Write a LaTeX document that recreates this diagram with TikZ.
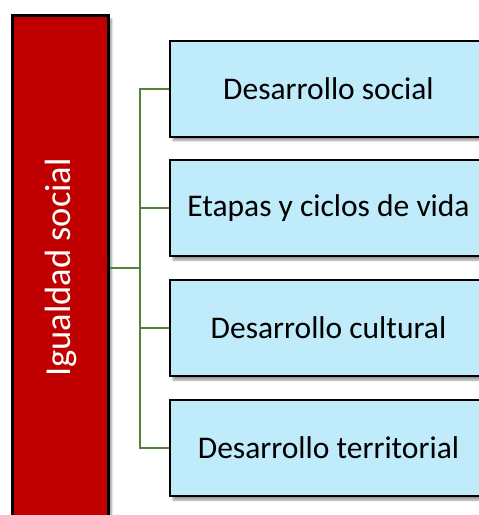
\documentclass[tikz,border=0pt]{standalone}
\usepackage{fontspec}
\setmainfont{Carlito}
\usetikzlibrary{shadows.blur}
\definecolor{rojo}{HTML}{C00000}
\definecolor{celeste}{HTML}{BFEBFA}
\definecolor{verde}{HTML}{548235}
\begin{document}
\begin{tikzpicture}[x=1pt, y=-1pt]
    % Estilos
    \tikzstyle{principal}=[rectangle, draw=black, fill=rojo, text=white, minimum width=96pt, minimum height=505pt, line width=3pt, inner sep=0pt, blur shadow={shadow xshift=3pt, shadow yshift=-4pt, shadow blur steps=6}]
    \tikzstyle{tema}=[rectangle, draw=black, fill=celeste, text=black, minimum width=317pt, minimum height=96pt, line width=2pt, inner sep=0pt, font=\fontsize{31.5}{36}\selectfont, blur shadow={shadow xshift=3pt, shadow yshift=-4pt, shadow blur steps=6}]
    \tikzstyle{enlace}=[verde, line width=2pt]

    % Marco
    \path[use as bounding box, clip] (0,0) rectangle (479,515);

    % Caja principal
    \node[principal] (igualdad) at (60.5,267.5) {\rotatebox{90}{\fontsize{36.5}{40}\selectfont Igualdad social}};

    % Temas
    \node[tema] (social) at (328.5,88.5) {Desarrollo social};
    \node[tema] (etapas) at (328.5,208) {Etapas y ciclos de vida};
    \node[tema] (cultural) at (328.5,328) {Desarrollo cultural};
    \node[tema] (territorial) at (328.5,448) {Desarrollo territorial};

    % Conectores
    \draw[enlace] (igualdad.east) -- ++(30,0) coordinate (nudo);
    \foreach \t in {social, etapas, cultural, territorial}
        \draw[enlace] (nudo) |- (\t.west);
\end{tikzpicture}
\end{document}
